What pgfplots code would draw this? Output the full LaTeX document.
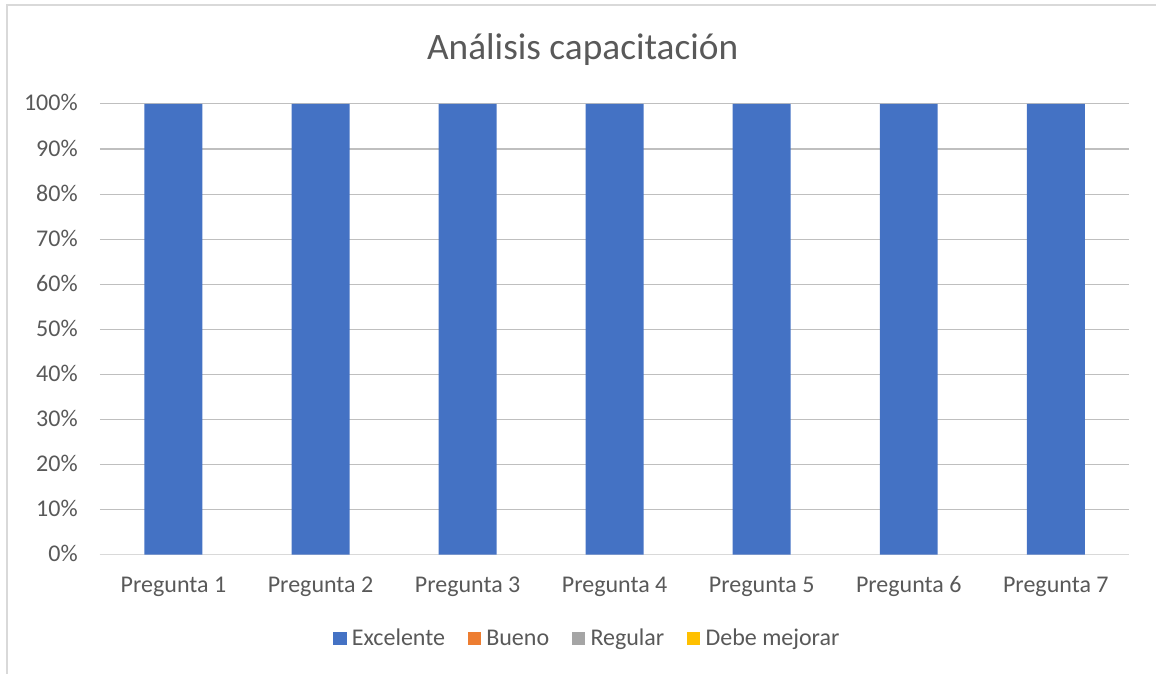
\documentclass[border=0pt]{standalone}
\usepackage{pgfplots}
\pgfplotsset{compat=1.18}
\usepackage{fontspec}
\setmainfont{Carlito}
\definecolor{txt}{HTML}{595959}
\definecolor{grid}{HTML}{D9D9D9}
\definecolor{cA}{HTML}{4472C4}
\definecolor{cB}{HTML}{ED7D31}
\definecolor{cC}{HTML}{A5A5A5}
\definecolor{cD}{HTML}{FFC000}
\begin{document}
\begin{tikzpicture}
\path (0,0) rectangle (867.75pt,505.5pt);
\draw[grid, line width=1pt] (5.25pt,0pt) -- (5.25pt,501.75pt) -- (867.75pt,501.75pt);
\node[text=txt, font=\fontsize{28}{32}\selectfont] at (437.25pt,468pt) {Análisis capacitación};
\begin{axis}[
  at={(75pt,89.25pt)}, anchor=south west,
  scale only axis, width=772.5pt, height=338.25pt,
  ybar stacked, bar width=43.5pt,
  xmin=-0.5, xmax=6.5, ymin=0, ymax=100,
  xtick=data,
  xticklabels={Pregunta 1,Pregunta 2,Pregunta 3,Pregunta 4,Pregunta 5,Pregunta 6,Pregunta 7},
  ytick={0,10,...,100},
  yticklabels={0\%,10\%,20\%,30\%,40\%,50\%,60\%,70\%,80\%,90\%,100\%},
  ymajorgrids, grid style={grid, line width=0.8pt},
  axis x line*=bottom, axis y line*=left,
  x axis line style={grid, line width=0.8pt, -},
  y axis line style={draw=none},
  major tick length=0pt,
  tick label style={text=txt, font=\fontsize{18}{21}\selectfont, inner sep=0pt},
  yticklabel style={anchor=base east, xshift=-16.5pt, yshift=-5.25pt},
  xticklabel style={anchor=base, yshift=-28.5pt},
  legend columns=4,
  legend style={draw=none, at={(0.4738,-0.186)}, anchor=center,
    font=\fontsize{18}{21}\selectfont, text=txt,
    /tikz/every odd column/.append style={column sep=2pt},
    /tikz/every even column/.append style={column sep=15pt}},
  legend image code/.code={\fill[#1] (0pt,-5pt) rectangle (10pt,5pt);},
  legend cell align=left,
]
\addplot[fill=cA, draw=none] coordinates {(0,100) (1,100) (2,100) (3,100) (4,100) (5,100) (6,100)};
\addplot[fill=cB, draw=none] coordinates {(0,0) (1,0) (2,0) (3,0) (4,0) (5,0) (6,0)};
\addplot[fill=cC, draw=none] coordinates {(0,0) (1,0) (2,0) (3,0) (4,0) (5,0) (6,0)};
\addplot[fill=cD, draw=none] coordinates {(0,0) (1,0) (2,0) (3,0) (4,0) (5,0) (6,0)};
\legend{Excelente,Bueno,Regular,Debe mejorar}
\end{axis}
\end{tikzpicture}
\end{document}
